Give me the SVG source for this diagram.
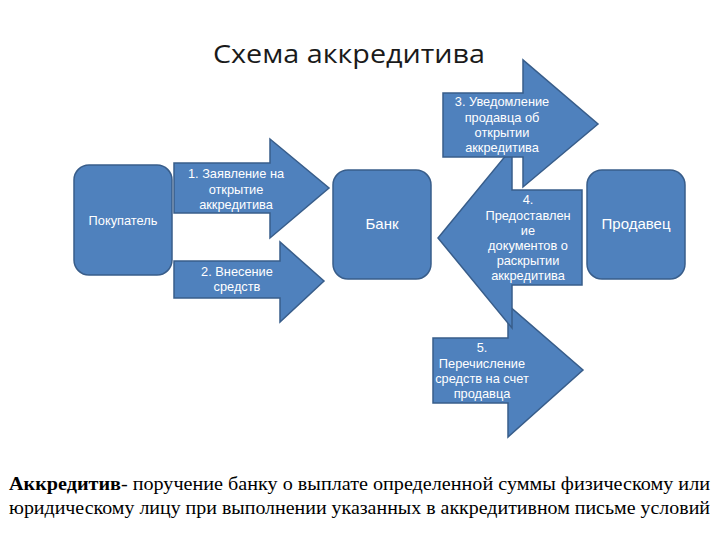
<svg xmlns="http://www.w3.org/2000/svg" width="720" height="540" viewBox="0 0 720 540">
<style>
.shape{fill:#4F81BD;stroke:#385D8A;stroke-width:1.5}
.lbl{font-family:"Liberation Sans",Arial,sans-serif;font-size:12.8px;fill:#FFFFFF;text-anchor:middle}
.big{font-size:15px}
.title{font-family:"Open Sans","Noto Sans",sans-serif;font-size:26px;fill:#1a1a1a}
.foot{font-family:"Liberation Serif","Times New Roman",serif;font-size:18.5px;fill:#000}
</style>
<rect width="720" height="540" fill="#FFFFFF"/>
<text class="title" x="213" y="63" textLength="272" lengthAdjust="spacingAndGlyphs">Схема аккредитива</text>

<g id="connectors">
  <g id="arrow1">
    <polygon class="shape" points="174,163 270,163 270,139 329,188 270,238 270,213 174,213"/>
    <text class="lbl" x="236" y="178">1. Заявление на</text>
    <text class="lbl" x="236" y="194">открытие</text>
    <text class="lbl" x="236" y="209">аккредитива</text>
  </g>
  <g id="arrow2">
    <polygon class="shape" points="174,261 280,261 280,242 324,281 280,322 280,298 174,298"/>
    <text class="lbl" x="237" y="276">2. Внесение</text>
    <text class="lbl" x="237" y="291">средств</text>
  </g>
  <g id="arrow5">
    <polygon class="shape" points="433,338 508,338 508,305 583,370 508,437 508,403 433,403"/>
    <text class="lbl" x="482" y="352">5.</text>
    <text class="lbl" x="482" y="368">Перечисление</text>
    <text class="lbl" x="482" y="383">средств на счет</text>
    <text class="lbl" x="482" y="398">продавца</text>
  </g>
  <g id="arrow4">
    <polygon class="shape" points="582,190 512,190 512,148 438,238 512,328 512,285 582,285"/>
    <text class="lbl" x="528" y="204">4.</text>
    <text class="lbl" x="528" y="220">Предоставлен</text>
    <text class="lbl" x="528" y="235">ие</text>
    <text class="lbl" x="528" y="250">документов о</text>
    <text class="lbl" x="528" y="265">раскрытии</text>
    <text class="lbl" x="528" y="280">аккредитива</text>
  </g>
  <g id="arrow3">
    <polygon class="shape" points="443,93 523,93 523,60 598,124 523,187 523,157 443,157"/>
    <text class="lbl" x="502" y="106">3. Уведомление</text>
    <text class="lbl" x="502" y="122">продавца об</text>
    <text class="lbl" x="502" y="137">открытии</text>
    <text class="lbl" x="502" y="152">аккредитива</text>
  </g>
</g>

<g id="buyer">
  <rect class="shape" x="74" y="165" width="98" height="110" rx="15"/>
  <text class="lbl" x="123" y="225">Покупатель</text>
</g>
<g id="bank">
  <rect class="shape" x="333" y="170" width="98" height="109" rx="15"/>
  <text class="lbl big" x="382" y="229">Банк</text>
</g>
<g id="seller">
  <rect class="shape" x="587" y="170" width="98" height="109" rx="15"/>
  <text class="lbl big" x="636" y="229">Продавец</text>
</g>

<text class="foot" x="9" y="490" textLength="701" lengthAdjust="spacingAndGlyphs"><tspan font-weight="bold">Аккредитив</tspan>- поручение банку о выплате определенной суммы физическому или</text>
<text class="foot" x="9" y="514" textLength="701" lengthAdjust="spacingAndGlyphs">юридическому лицу при выполнении указанных в аккредитивном письме условий</text>
</svg>
